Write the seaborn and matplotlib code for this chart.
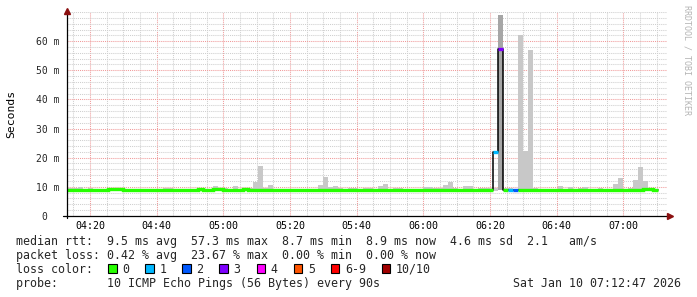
import numpy as np
import pandas as pd
import matplotlib
matplotlib.use("Agg")
import matplotlib.pyplot as plt
import matplotlib.dates as mdates
from matplotlib.ticker import FixedLocator, MultipleLocator
from matplotlib.patches import Rectangle
import seaborn as sns

# ---------------- data ----------------
start_time = "2026-01-10 04:12:00"
step_seconds = 90

median_ms = [
    9.0, 9.0, 9.0, 8.7, 8.8, 9.0, 8.9, 8.7, 8.7, 9.2,
    9.2, 9.3, 8.7, 8.8, 8.9, 8.9, 8.8, 8.8, 8.7, 8.7,
    9.0, 9.0, 8.7, 8.9, 8.7, 8.8, 8.8, 9.3, 8.9, 8.8,
    9.1, 9.1, 9.0, 8.7, 8.7, 8.8, 9.2, 9.0, 8.9, 8.9,
    9.0, 9.0, 8.9, 8.7, 8.7, 8.9, 8.9, 8.7, 8.8, 8.9,
    8.9, 8.8, 8.8, 8.7, 9.0, 9.0, 8.7, 9.0, 9.0, 8.7,
    9.0, 9.0, 8.8, 8.8, 8.7, 8.7, 9.0, 9.0, 8.8, 8.8,
    8.9, 8.9, 8.7, 8.7, 9.0, 9.0, 8.7, 9.0, 9.0, 8.9,
    8.9, 8.7, 8.7, 9.0, 9.0, 9.0, 21.8, 57.3, 9.0, 9.0,
    8.7, 9.0, 9.0, 9.0, 9.0, 8.9, 8.8, 8.7, 8.7, 9.0,
    8.9, 8.7, 8.7, 9.0, 9.0, 8.9, 8.9, 9.0, 8.7, 8.9,
    9.0, 8.7, 8.9, 9.0, 8.9, 8.7, 9.3, 9.2, 8.9,
]

loss = [0] * 86 + [1, 3, 0, 1, 2] + [0] * 28

smoke_lo_ms = [
    8.6, 8.6, 8.7, 8.4, 8.5, 8.7, 8.6, 8.4, 8.4, 8.9,
    8.9, 8.9, 8.4, 8.5, 8.6, 8.6, 8.5, 8.5, 8.4, 8.4,
    8.7, 8.7, 8.4, 8.6, 8.4, 8.5, 8.5, 8.9, 8.6, 8.5,
    8.8, 8.8, 8.7, 8.4, 8.4, 8.5, 8.8, 8.7, 8.6, 8.6,
    8.7, 8.7, 8.6, 8.4, 8.4, 8.6, 8.6, 8.4, 8.5, 8.6,
    8.6, 8.5, 8.5, 8.4, 8.7, 8.7, 8.4, 8.7, 8.7, 8.4,
    8.7, 8.7, 8.5, 8.5, 8.4, 8.4, 8.7, 8.7, 8.5, 8.5,
    8.6, 8.6, 8.4, 8.4, 8.7, 8.7, 8.4, 8.7, 8.7, 8.6,
    8.6, 8.4, 8.4, 8.7, 8.7, 8.7, 8.5, 8.8, 8.7, 8.6,
    8.4, 8.7, 8.7, 8.7, 8.7, 8.6, 8.5, 8.4, 8.4, 8.7,
    8.6, 8.4, 8.4, 8.7, 8.7, 8.6, 8.6, 8.7, 8.4, 8.6,
    8.7, 8.4, 8.6, 8.7, 8.6, 8.4, 8.9, 8.9, 8.6,
]

smoke_hi_ms = [
    9.4, 9.4, 9.5, 9.8, 9.2, 9.7, 9.3, 9.1, 9.2, 9.6,
    9.6, 9.7, 9.1, 9.2, 9.3, 9.3, 9.2, 9.2, 9.1, 9.1,
    9.4, 9.5, 9.0, 9.3, 9.1, 9.2, 9.2, 9.7, 9.3, 9.2,
    10.2, 9.5, 9.4, 9.1, 10.2, 9.2, 9.6, 9.4, 11.6, 17.1,
    9.4, 10.6, 9.3, 9.1, 9.0, 9.3, 9.3, 9.1, 9.2, 9.3,
    9.3, 10.6, 13.4, 9.9, 10.2, 9.4, 9.1, 9.4, 9.4, 9.1,
    9.4, 9.4, 9.2, 10.2, 10.9, 9.1, 9.4, 9.4, 9.2, 9.2,
    9.3, 9.3, 9.8, 9.8, 9.4, 9.4, 10.5, 11.6, 9.4, 9.3,
    10.2, 10.2, 9.1, 9.4, 9.4, 9.4, 9.6, 69.0, 9.4, 9.4,
    9.1, 62.1, 22.3, 57.0, 9.4, 9.3, 9.2, 9.0, 9.1, 10.2,
    9.3, 10.0, 9.1, 9.4, 9.9, 9.3, 9.3, 9.4, 9.1, 9.3,
    10.9, 13.0, 9.3, 9.4, 12.3, 16.9, 12.1, 9.6, 9.3,
]

x_start, x_end = "2026-01-10 04:13:00", "2026-01-10 07:13:00"
y_max = 70
y_ticks = [0, 10, 20, 30, 40, 50, 60]
y_tick_labels = ["0  ", "10 m", "20 m", "30 m", "40 m", "50 m", "60 m"]

loss_labels = ["0", "1", "2", "3", "4", "5", "6-9", "10/10"]
loss_colors = ["#26ff00", "#00b8ff", "#0059ff", "#7e00ff",
               "#ff00ff", "#ff5500", "#ff0000", "#a10000"]

row_median = "median rtt:  9.5 ms avg  57.3 ms max  8.7 ms min  8.9 ms now  4.6 ms sd  2.1   am/s"
row_loss = "packet loss: 0.42 % avg  23.67 % max  0.00 % min  0.00 % now"
row_color = "loss color:"
row_probe = "probe:       10 ICMP Echo Pings (56 Bytes) every 90s"
stamp = "Sat Jan 10 07:12:47 2026"
watermark = "RRDTOOL / TOBI OETIKER"
y_label = "Seconds"

# ---------------- figure ----------------
sns.set_style("white")
plt.rcParams["font.family"] = ["DejaVu Sans Mono", "DejaVu Sans"]

W, H = 697, 297
fig = plt.figure(figsize=(W / 100, H / 100), dpi=100)
fig.patch.set_facecolor("white")
L, R, B, T = 66.7, 666.7, 215.8, 12.1
ax = fig.add_axes([L / W, 1 - B / H, (R - L) / W, (B - T) / H])
ax.set_facecolor("white")

times = pd.date_range(start_time, periods=len(median_ms) + 1, freq=f"{step_seconds}s")
edges = mdates.date2num(times.to_pydatetime())

# smoke
lo = np.array(smoke_lo_ms)
hi = np.array(smoke_hi_ms)
shade = ["#a6a6a6" if l >= 3 else "#c8c8c8" for l in loss]
ax.bar(edges[:-1], hi - lo, bottom=lo, width=np.diff(edges), align="edge",
       color=shade, linewidth=0, zorder=1)

# median: black connector step line
med = np.array(median_ms)
yext = np.append(med, med[-1])
sns.lineplot(x=edges, y=yext, drawstyle="steps-post", color="black", lw=1.1,
             estimator=None, sort=False, ax=ax, zorder=2)


def color_index(l):
    if l >= 10:
        return 7
    if l >= 6:
        return 6
    return l


cidx = [color_index(l) for l in loss]
i = 0
n = len(med)
while i < n:
    j = i
    while j + 1 < n and cidx[j + 1] == cidx[i]:
        j += 1
    xs = edges[i:j + 2]
    ys = np.append(med[i:j + 1], med[j])
    ax.plot(xs, ys, drawstyle="steps-post", color=loss_colors[cidx[i]],
            lw=2.4, solid_capstyle="butt", solid_joinstyle="miter", zorder=3)
    i = j + 1

# axes, grid
ax.set_xlim(mdates.date2num(pd.Timestamp(x_start).to_pydatetime()),
            mdates.date2num(pd.Timestamp(x_end).to_pydatetime()))
ax.set_ylim(0, y_max)
ax.xaxis.set_major_locator(mdates.MinuteLocator(byminute=[0, 20, 40]))
ax.xaxis.set_minor_locator(mdates.MinuteLocator(byminute=range(0, 60, 5)))
ax.xaxis.set_major_formatter(mdates.DateFormatter("%H:%M"))
ax.yaxis.set_major_locator(FixedLocator(y_ticks))
ax.yaxis.set_minor_locator(MultipleLocator(2))
ax.set_yticklabels(y_tick_labels)
ax.set_axisbelow(True)
ax.grid(which="minor", color="#cfcfcf", ls=(0, (1, 1)), lw=0.75)
ax.grid(which="major", color="#f09a9a", ls=(0, (1, 1)), lw=0.75)
for s in ax.spines.values():
    s.set_visible(False)
ax.set_xlabel("")
ax.set_ylabel("")

ax.tick_params(axis="x", which="major", direction="out", length=2.5, width=0.7,
               pad=1.5, labelsize=7.2, colors="black")
ax.tick_params(axis="x", which="minor", direction="out", length=1.5, width=0.7)
ax.tick_params(axis="y", which="major", direction="in", length=2.5, width=0.7,
               pad=5.3, labelsize=7.0)
ax.tick_params(axis="y", which="minor", direction="in", length=1.5, width=0.7)
for lab in ax.get_xticklabels() + ax.get_yticklabels():
    lab.set_fontfamily("DejaVu Sans Mono")

# axis lines with arrows
ax.plot([0, 0], [-0.012, 1.0], transform=ax.transAxes, color="black", lw=0.9,
        clip_on=False, zorder=6)
ax.plot([-0.007, 1.005], [0, 0], transform=ax.transAxes, color="black", lw=0.9,
        clip_on=False, zorder=6)
ax.plot([0], [1.006], marker="^", ms=4, color="#8b1010", mec="#8b1010",
        transform=ax.transAxes, clip_on=False, zorder=7)
ax.plot([1.006], [0], marker=">", ms=4, color="#8b1010", mec="#8b1010",
        transform=ax.transAxes, clip_on=False, zorder=7)

# texts
fig.text(11 / W, 1 - 113.5 / H, y_label, rotation=90, ha="center", va="center",
         fontsize=8.2, color="black")
fig.text(687.5 / W, 1 - 60 / H, watermark, rotation=-90, ha="center", va="center",
         fontsize=6, color="#b4b4b4")

fs = 8.4
fig.text(16 / W, 1 - 245.0 / H, row_median, fontsize=fs, va="baseline", ha="left")
fig.text(16 / W, 1 - 259.1 / H, row_loss, fontsize=fs, va="baseline", ha="left")
fig.text(16 / W, 1 - 272.9 / H, row_color, fontsize=fs, va="baseline", ha="left")
fig.text(16 / W, 1 - 287.4 / H, row_probe, fontsize=fs, va="baseline", ha="left")
fig.text(681 / W, 1 - 287.4 / H, stamp, fontsize=fs, va="baseline", ha="right")

swatch_x = [108.3, 145.2, 182.2, 219.3, 256.5, 293.5, 330.6, 381.7]
for sx, c, lab in zip(swatch_x, loss_colors, loss_labels):
    fig.add_artist(Rectangle((sx / W, 1 - 272.5 / H), 8.4 / W, 8.4 / H,
                             facecolor=c, edgecolor="black", lw=0.8,
                             transform=fig.transFigure))
    fig.text((sx + 14.4) / W, 1 - 272.9 / H, lab, fontsize=fs, va="baseline", ha="left")

fig.savefig("out.png", dpi=100, facecolor="white")
